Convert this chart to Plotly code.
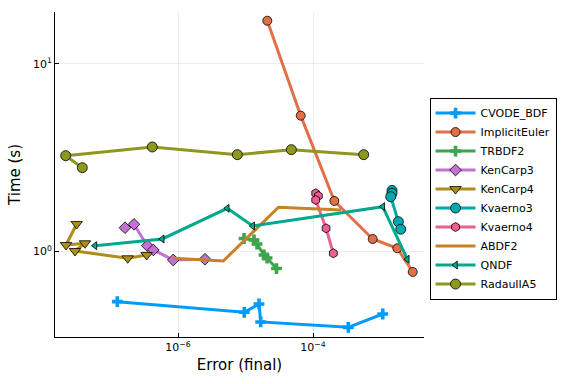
import plotly.graph_objects as go

# ---- data (Error (final), Time (s)) ----
cvode_x = [1.262e-7, 9.59e-6, 1.585e-5, 1.679e-5, 3.334e-4, 1.079e-3]
cvode_y = [0.540, 0.474, 0.525, 0.421, 0.394, 0.464]

ie_x = [2.104e-5, 6.577e-5, 2.070e-4, 7.656e-4, 1.774e-3, 3.0e-3]
ie_y = [17.0, 5.30, 1.86, 1.166, 1.04, 0.778]

trbdf2_x = [9.51e-6, 1.337e-5, 1.479e-5, 1.879e-5, 2.084e-5, 2.877e-5]
trbdf2_y = [1.173, 1.152, 1.096, 0.958, 0.923, 0.811]

kc3_x = [1.641e-7, 2.228e-7, 3.508e-7, 4.305e-7, 8.51e-7, 2.512e-6]
kc3_y = [1.339, 1.396, 1.074, 1.019, 0.901, 0.909]

kc4_x = [3.155e-8, 2.193e-8, 4.188e-8, 2.979e-8, 1.799e-7, 3.436e-7]
kc4_y = [1.402, 1.083, 1.106, 1.006, 0.920, 0.958]

kv3_x = [1.479e-3, 1.479e-3, 1.416e-3, 1.837e-3, 1.991e-3]
kv3_y = [2.116, 2.043, 1.960, 1.442, 1.314]

kv4_x = [1.096e-4, 1.2e-4, 1.096e-4, 1.56e-4, 2.0e-4]
kv4_y = [2.043, 1.977, 1.883, 1.329, 0.978]

abdf2_x = [8.51e-7, 4.688e-6, 3.083e-5, 2.6e-4]
abdf2_y = [0.920, 0.890, 1.721, 1.664]

qndf_x = [5.888e-8, 5.848e-7, 5.37e-6, 1.279e-5, 1.079e-3, 2.495e-3]
qndf_y = [1.074, 1.166, 1.700, 1.368, 1.734, 0.909]

radau_x = [3.82e-8, 2.168e-8, 4.159e-7, 7.568e-6, 4.775e-5, 5.636e-4]
radau_y = [2.798, 3.243, 3.608, 3.283, 3.490, 3.283]

names = ["CVODE_BDF", "ImplicitEuler", "TRBDF2", "KenCarp3", "KenCarp4",
         "Kvaerno3", "Kvaerno4", "ABDF2", "QNDF", "RadauIIA5"]
xs = [cvode_x, ie_x, trbdf2_x, kc3_x, kc4_x, kv3_x, kv4_x, abdf2_x, qndf_x, radau_x]
ys = [cvode_y, ie_y, trbdf2_y, kc3_y, kc4_y, kv3_y, kv4_y, abdf2_y, qndf_y, radau_y]
colors = ["#009AFA", "#E36F47", "#3EA44E", "#C371D2", "#AC8E18",
          "#00A9AD", "#ED5E93", "#C68225", "#00A98D", "#8E971E"]
symbols = ["cross", "circle", "cross", "diamond", "triangle-down",
           "circle", "hexagon", None, "triangle-left", "circle"]
sizes = [9, 9, 9, 9, 10, 10, 9, 0, 7, 10]

x_tickvals = [1e-6, 1e-4]
x_ticktext = ["10<sup>−6</sup>", "10<sup>−4</sup>"]
y_tickvals = [1, 10]
y_ticktext = ["10<sup>0</sup>", "10<sup>1</sup>"]

fig = go.Figure()
for n, x, y, c, s, sz in zip(names, xs, ys, colors, symbols, sizes):
    if s is None:
        fig.add_trace(go.Scatter(x=x, y=y, name=n, mode="lines",
                                 line=dict(color=c, width=3)))
    else:
        lw = 0 if s == "cross" else 0.8
        fig.add_trace(go.Scatter(
            x=x, y=y, name=n, mode="lines+markers",
            line=dict(color=c, width=3),
            marker=dict(symbol=s, size=sz, color=c,
                        line=dict(color="black", width=lw))))

fig.update_layout(
    width=576, height=384,
    margin=dict(l=55, r=152, t=12, b=47, autoexpand=False),
    paper_bgcolor="white", plot_bgcolor="white",
    font=dict(family="DejaVu Sans", size=11, color="black"),
    legend=dict(x=1.015, y=0.426, xanchor="left", yanchor="middle",
                bordercolor="black", borderwidth=1, bgcolor="white",
                font=dict(size=11), tracegroupgap=0, itemwidth=40),
    showlegend=True,
)
fig.update_xaxes(
    type="log", range=[-7.822, -2.356],
    tickvals=x_tickvals, ticktext=x_ticktext,
    showgrid=True, gridcolor="rgba(0,0,0,0.07)", gridwidth=1,
    showline=True, linecolor="black", linewidth=1, mirror=False,
    ticks="inside", ticklen=4, tickcolor="black",
    zeroline=False, automargin=False,
    title=dict(text="Error (final)", font=dict(size=15), standoff=6),
)
fig.update_yaxes(
    type="log", range=[-0.456, 1.277],
    tickvals=y_tickvals, ticktext=y_ticktext,
    showgrid=True, gridcolor="rgba(0,0,0,0.07)", gridwidth=1,
    showline=True, linecolor="black", linewidth=1, mirror=False,
    ticks="inside", ticklen=4, tickcolor="black",
    zeroline=False, automargin=False,
    title=dict(text="Time (s)", font=dict(size=15), standoff=8),
)

fig.write_html("out.html", config={"displayModeBar": False},
               post_script="document.body.style.margin='0px';")
